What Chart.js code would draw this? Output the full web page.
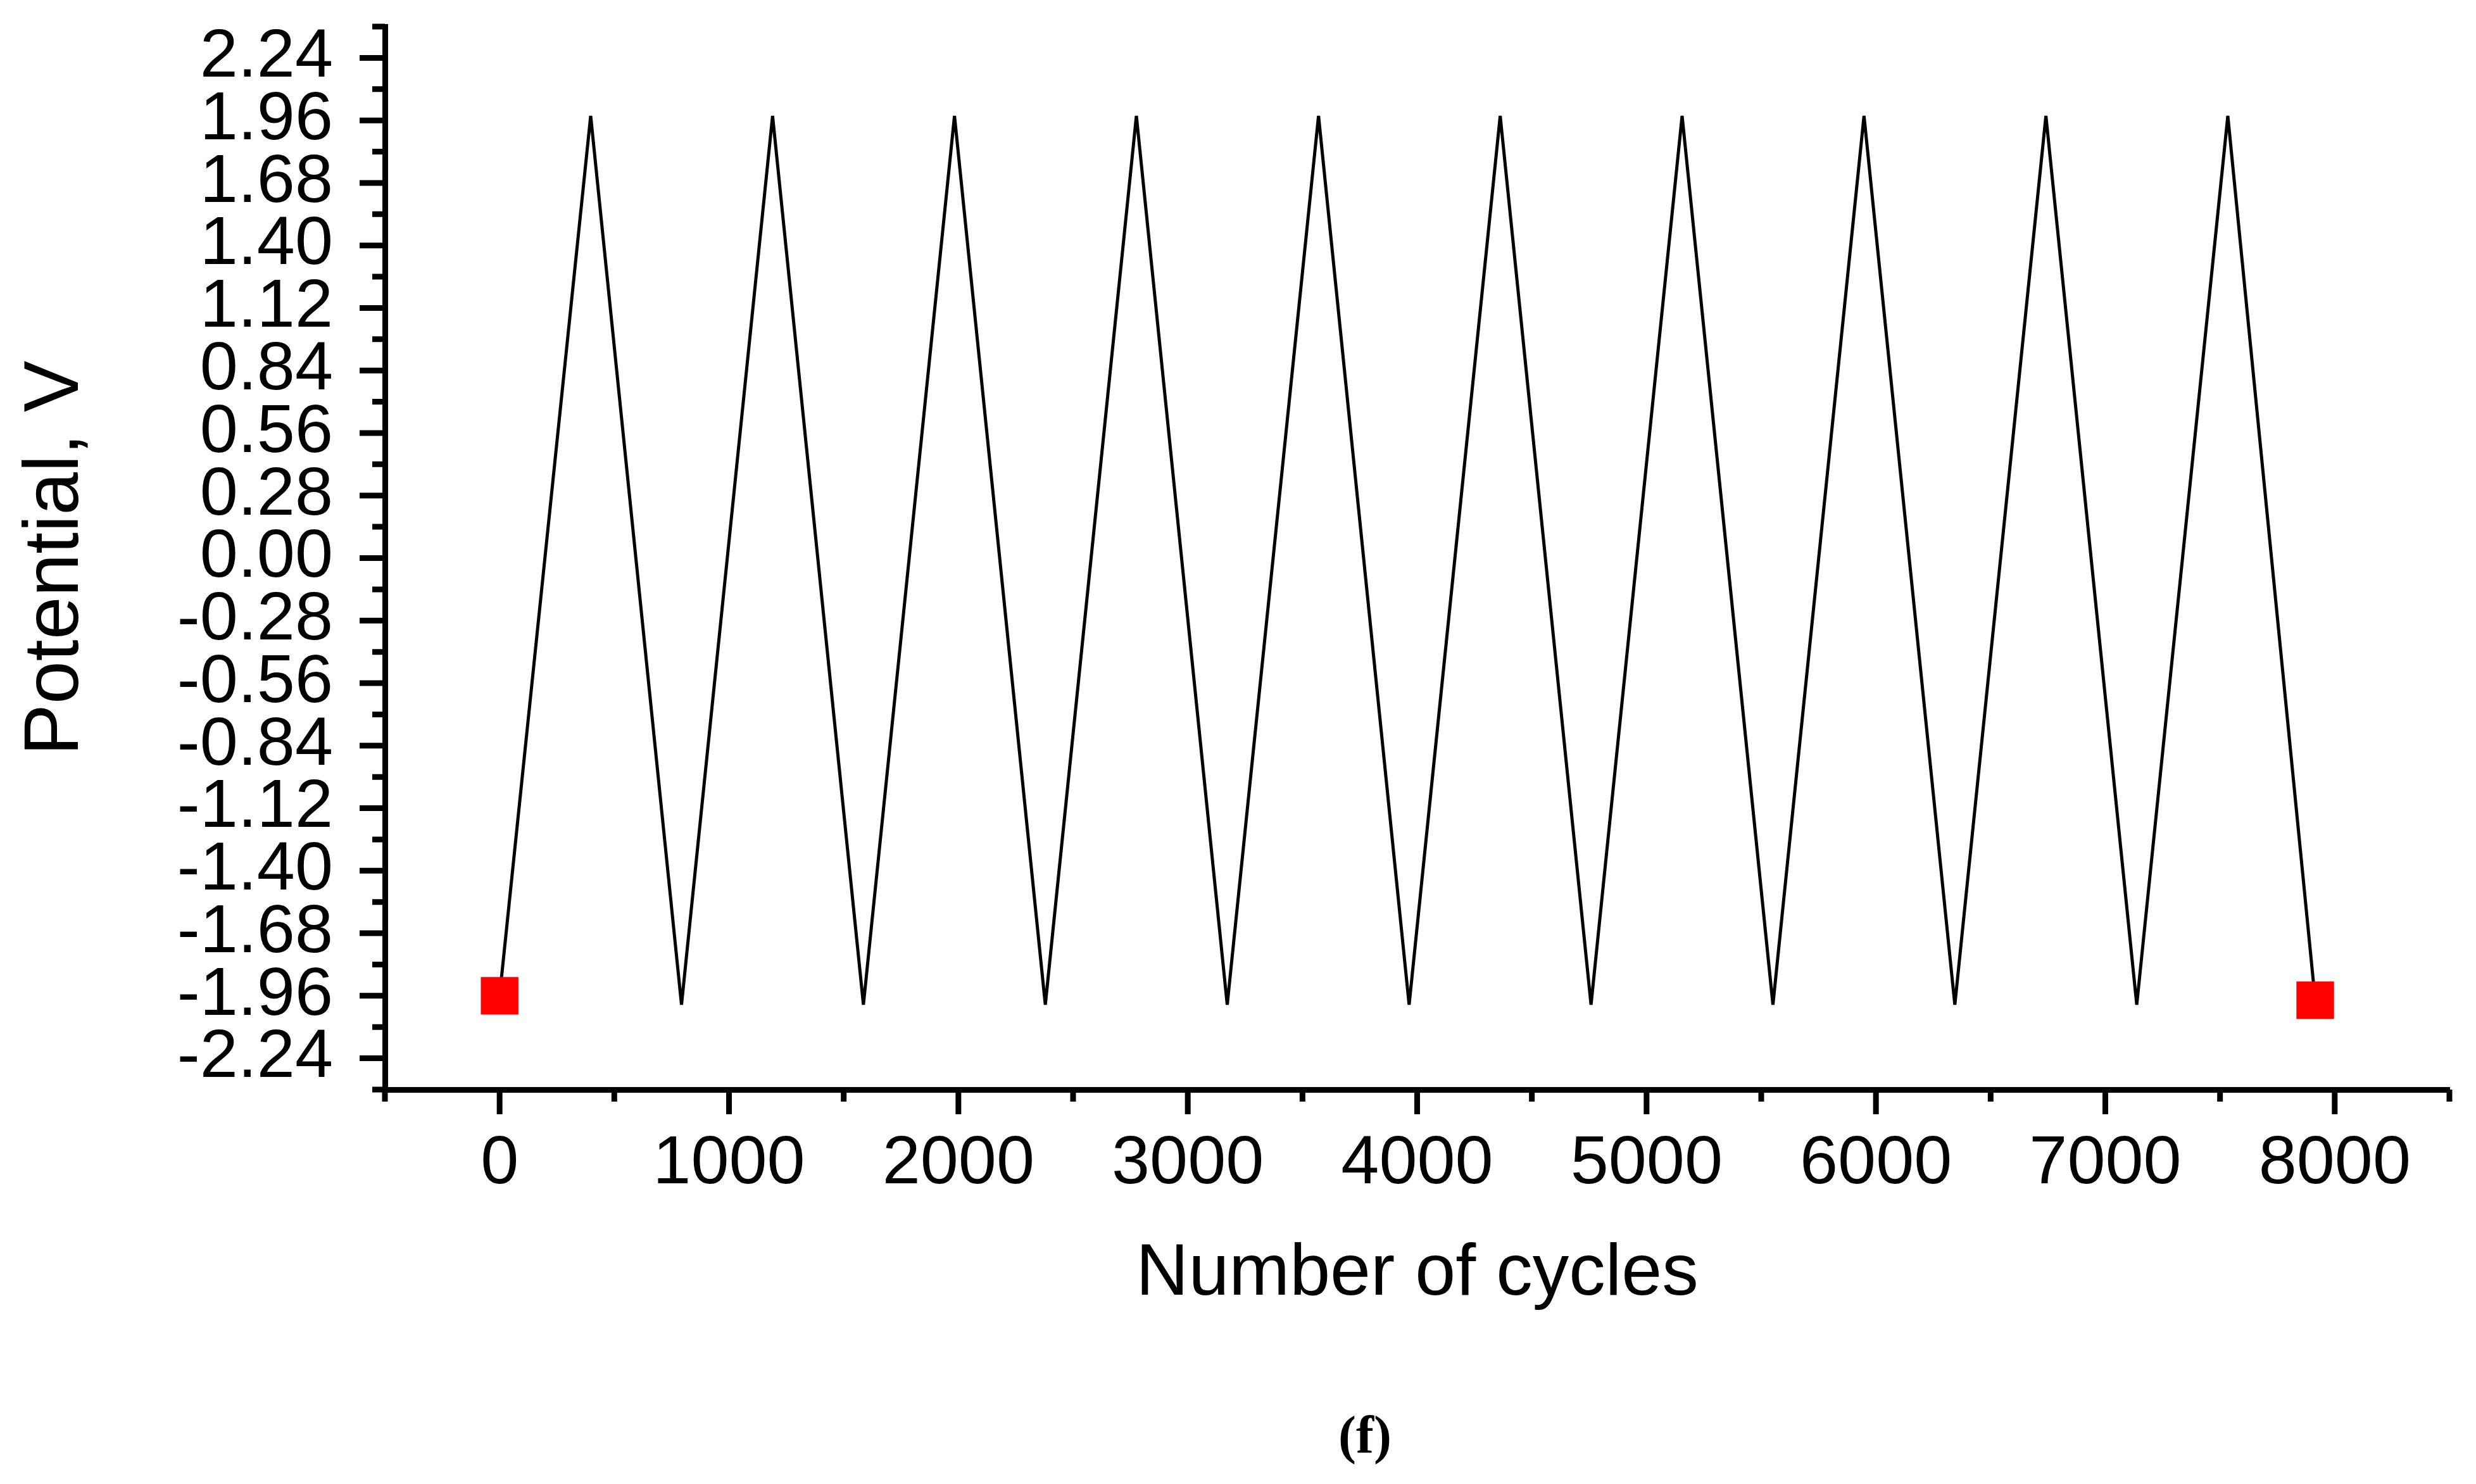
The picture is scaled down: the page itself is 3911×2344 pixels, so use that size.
<!DOCTYPE html>
<html>
<head>
<meta charset="utf-8">
<title>Potential vs number of cycles</title>
<script src="https://cdn.jsdelivr.net/npm/chart.js@4.4.1/dist/chart.umd.min.js"></script>
<style>
    html, body { margin: 0; padding: 0; background: #fff; }
    #wrap { position: relative; width: 3911px; height: 2344px; }
</style>
</head>
<body>
<div id="wrap"><canvas id="cycleChart"></canvas></div>
<script>
// Triangle wave (cycles, volts)
const cycles = [0, 397, 793, 1190, 1586, 1983, 2379, 2776, 3172, 3570, 3965,
                4362, 4758, 5155, 5551, 5948, 6344, 6741, 7137, 7534, 7915];
const potential = [-1.96, 1.98, -2.00, 1.98, -2.00, 1.98, -2.00, 1.98, -2.00, 1.98, -2.00,
                   1.98, -2.00, 1.98, -2.00, 1.98, -2.00, 1.98, -2.00, 1.98, -1.98];

// Red square markers at the start and end of the run
const markerCycles = [0, 7915];
const markerPotential = [-1.96, -1.98];

// Axis ticks
const xTickValues = [0, 1000, 2000, 3000, 4000, 5000, 6000, 7000, 8000];
const yTickValues = [-2.24, -1.96, -1.68, -1.40, -1.12, -0.84, -0.56, -0.28, 0.00,
                     0.28, 0.56, 0.84, 1.12, 1.40, 1.68, 1.96, 2.24];
const xMin = -500, xMax = 8500;
const yMin = -2.38, yMax = 2.38;

const FONT = '"Liberation Sans", Arial, sans-serif';
Chart.defaults.color = '#000';
Chart.defaults.font.family = FONT;

// Minor ticks sit halfway between the major ones (plus the axis ends)
function withMinors(values, lo, hi) {
    const step = values[1] - values[0];
    const minors = [];
    for (let v = lo; v <= hi + 1e-9; v += step) minors.push(v);
    return minors;
}

// Draws the outward tick marks on both axes, and the "(f)" caption
const axisTicks = {
    id: 'axisTicks',
    afterDraw(chart) {
        const { ctx, chartArea, scales: { x, y } } = chart;
        ctx.save();
        ctx.strokeStyle = '#000';
        ctx.lineWidth = 9;
        ctx.lineCap = 'butt';
        ctx.beginPath();
        xTickValues.forEach(v => {
            const px = x.getPixelForValue(v);
            ctx.moveTo(px, chartArea.bottom);
            ctx.lineTo(px, chartArea.bottom + 39);
        });
        withMinors(xTickValues, xMin, xMax).forEach(v => {
            const px = x.getPixelForValue(v);
            ctx.moveTo(px, chartArea.bottom);
            ctx.lineTo(px, chartArea.bottom + 19);
        });
        yTickValues.forEach(v => {
            const py = y.getPixelForValue(v);
            ctx.moveTo(chartArea.left, py);
            ctx.lineTo(chartArea.left - 40, py);
        });
        withMinors(yTickValues, yMin, yMax).forEach(v => {
            const py = y.getPixelForValue(v);
            ctx.moveTo(chartArea.left, py);
            ctx.lineTo(chartArea.left - 20, py);
        });
        ctx.stroke();

        // caption under the figure
        ctx.fillStyle = '#000';
        ctx.font = 'bold 84px "Liberation Serif", "Times New Roman", serif';
        ctx.textAlign = 'center';
        ctx.textBaseline = 'middle';
        ctx.fillText('(f)', 2156, 2273);
        ctx.restore();
    }
};

const ctx = document.getElementById('cycleChart').getContext('2d');
const cycleChart = new Chart(ctx, {
    type: 'scatter',
    data: {
        datasets: [
            {
                label: 'Start / end',
                data: markerCycles.map((c, i) => ({ x: c, y: markerPotential[i] })),
                pointStyle: 'rect',
                pointRadius: 42,
                pointHoverRadius: 42,
                backgroundColor: '#ff0000',
                borderWidth: 0,
                showLine: false
            },
            {
                label: 'Potential',
                data: cycles.map((c, i) => ({ x: c, y: potential[i] })),
                showLine: true,
                borderColor: '#000',
                borderWidth: 5,
                borderJoinStyle: 'bevel',
                pointRadius: 0,
                fill: false
            }
        ]
    },
    options: {
        responsive: true,
        maintainAspectRatio: false,
        animation: false,
        layout: { padding: { left: 0, right: 35, top: 35, bottom: 0 } },
        plugins: {
            legend: { display: false },
            tooltip: { enabled: false }
        },
        scales: {
            x: {
                type: 'linear',
                min: xMin,
                max: xMax,
                afterBuildTicks: scale => { scale.ticks = xTickValues.map(v => ({ value: v })); },
                afterFit: scale => {
                    scale.height = 623;
                    scale.paddingLeft = 0;
                    scale.paddingRight = 0;
                },
                grid: { display: false, drawTicks: false },
                border: { display: true, color: '#000', width: 9 },
                ticks: {
                    padding: 53,
                    maxRotation: 0,
                    autoSkip: false,
                    font: { size: 108, family: FONT },
                    callback: value => String(value)
                },
                title: {
                    display: true,
                    text: 'Number of cycles',
                    font: { size: 115, family: FONT },
                    padding: { top: 4, bottom: 262 }
                }
            },
            y: {
                type: 'linear',
                min: yMin,
                max: yMax,
                afterBuildTicks: scale => { scale.ticks = yTickValues.map(v => ({ value: v })); },
                afterFit: scale => {
                    scale.width = 608;
                    scale.paddingTop = 0;
                    scale.paddingBottom = 0;
                },
                grid: { display: false, drawTicks: false },
                border: { display: true, color: '#000', width: 9 },
                ticks: {
                    padding: 82,
                    autoSkip: false,
                    font: { size: 108, family: FONT },
                    callback: value => value.toFixed(2)
                },
                title: {
                    display: true,
                    text: 'Potential, V',
                    font: { size: 122, family: FONT },
                    padding: { top: 16, bottom: 4 }
                }
            }
        }
    },
    plugins: [axisTicks]
});
</script>
</body>
</html>
